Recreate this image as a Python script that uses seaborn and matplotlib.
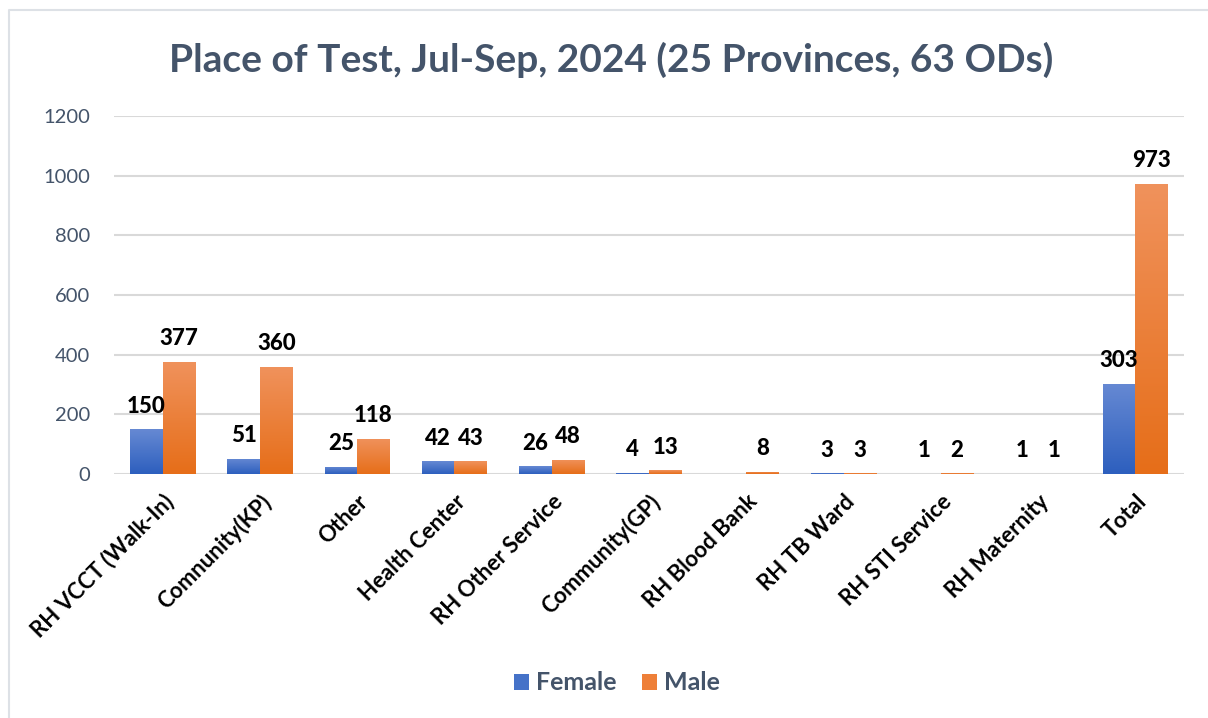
import numpy as np
import pandas as pd
import seaborn as sns
import matplotlib.pyplot as plt
from matplotlib.colors import LinearSegmentedColormap
from matplotlib.patches import Patch
from matplotlib.lines import Line2D

# Data
places = ["RH VCCT (Walk-In)", "Comnunity(KP)", "Other", "Health Center",
          "RH Other Service", "Community(GP)", "RH Blood Bank", "RH TB Ward",
          "RH STI Service", "RH Maternity", "Total"]
female = [150, 51, 25, 42, 26, 4, np.nan, 3, 1, 1, 303]
male = [377, 360, 118, 43, 48, 13, 8, 3, 2, 1, 973]
yticks = [0, 200, 400, 600, 800, 1000, 1200]

df = pd.DataFrame({
    "place": places * 2,
    "sex": ["Female"] * len(places) + ["Male"] * len(places),
    "count": female + male,
})

sns.set_theme(style="white")
plt.rcParams['font.family'] = ['Lato', 'DejaVu Sans']

slate = "#44546A"
grad = {"Female": ("#2D5FBE", "#6689D3"), "Male": ("#E66E19", "#F0925C")}
legend_col = {"Female": "#4572C8", "Male": "#EE7F38"}

fig = plt.figure(figsize=(12.08, 7.18), dpi=100)
ax = fig.add_axes([114 / 1208, 1 - 474 / 718, (1184 - 114) / 1208, (474 - 116) / 718])

sns.barplot(data=df, x="place", y="count", hue="sex",
            palette={"Female": grad["Female"][1], "Male": grad["Male"][1]},
            width=0.67, gap=0, ax=ax, legend=False, saturation=1)

# gradient fill, Excel style
for cont, sex in zip(ax.containers, ["Female", "Male"]):
    cmap = LinearSegmentedColormap.from_list(sex, grad[sex])
    for p in cont.patches:
        x, w, h = p.get_x(), p.get_width(), p.get_height()
        if not h > 0:
            continue
        img = ax.imshow(np.linspace(0, 1, 100).reshape(-1, 1), cmap=cmap,
                        extent=[x, x + w, 0, h], origin="lower",
                        aspect="auto", zorder=2)
        img.set_clip_path(p)
        p.set_facecolor("none")
        p.set_edgecolor("none")
    ax.bar_label(cont, fmt="%d", padding=9, fontsize=16, fontweight=900,
                 color="black")

ax.set_xlim(-0.5, len(places) - 0.5)
ax.set_ylim(0, 1200)
ax.set_yticks(yticks)
ax.set_axisbelow(True)
ax.yaxis.grid(True, color="#D9D9D9", linewidth=1.5)
ax.xaxis.grid(False)
for s in ax.spines.values():
    s.set_visible(False)
ax.set_xlabel("")
ax.set_ylabel("")
ax.tick_params(axis="y", labelsize=14.5, labelcolor=slate, pad=17, length=0)
ax.tick_params(axis="x", length=0, pad=12)
for lbl in ax.get_xticklabels():
    lbl.set_rotation(45)
    lbl.set_ha("right")
    lbl.set_rotation_mode("anchor")
    lbl.set_fontsize(16)
    lbl.set_fontweight("bold")
    lbl.set_color("black")

fig.text(0.506, 1 - 60 / 718, "Place of Test, Jul-Sep, 2024 (25 Provinces, 63 ODs)",
         ha="center", va="center", fontsize=28, fontweight="bold", color=slate)

handles = [Patch(facecolor=legend_col["Female"], edgecolor="none"),
           Patch(facecolor=legend_col["Male"], edgecolor="none")]
fig.legend(handles, ["Female", "Male"], loc="center",
           bbox_to_anchor=(617 / 1208, 1 - 683 / 718), ncol=2, frameon=False,
           prop={"size": 18, "weight": "bold"}, labelcolor=slate,
           handlelength=0.6, handleheight=0.6, handletextpad=0.3, columnspacing=1.0)

# frame lines (top and left) of the chart box
fig.add_artist(Line2D([9 / 1208, 9 / 1208, 1], [0, 1 - 10 / 718, 1 - 10 / 718],
                      transform=fig.transFigure, color="#DDE1E6", linewidth=1.5))

fig.savefig("out.png", dpi=100)
